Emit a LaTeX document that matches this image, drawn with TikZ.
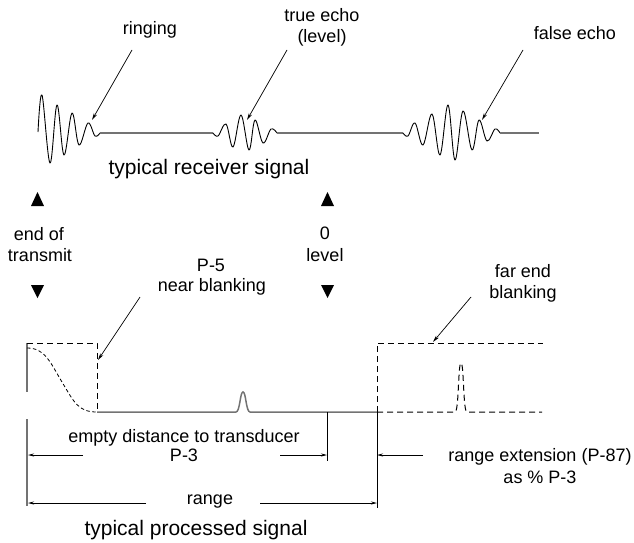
\documentclass[tikz,border=0pt]{standalone}
\usepackage{fontspec}
\setmainfont{Liberation Sans}
\usetikzlibrary{arrows.meta}
\tikzset{
  lbl/.style={font=\fontsize{18}{21}\selectfont, inner sep=0pt, anchor=base},
  ttl/.style={font=\fontsize{21}{24}\selectfont, inner sep=0pt, anchor=base},
  wave/.style={draw=black, line width=0.9pt, line join=round},
  sigline/.style={draw=black!55, line width=1.5pt},
  ptr/.style={draw=black, line width=0.7pt, -{Stealth[length=7pt,width=3.5pt]}},
  dim/.style={draw=black, line width=0.8pt, -{Stealth[length=6pt,width=3pt]}},
  dsh/.style={draw=black, line width=1.0pt, dash pattern=on 6pt off 4pt},
  fdsh/.style={draw=black, line width=0.8pt, dash pattern=on 3.5pt off 2.5pt},
  tick/.style={draw=black, line width=0.8pt},
  tri/.style={fill=black}
}
\begin{document}
\begin{tikzpicture}[x=1pt,y=-1pt]
\useasboundingbox (0,0) rectangle (634,543);

% ---------- receiver signal ----------
\draw[wave] plot[smooth,tension=0.6] coordinates {(38,132) (42,95) (50,163) (57,105) (64,155) (72,113) (79,145) (88,123) (95,136) (100,133)};
\draw[sigline] (100,133) -- (213,133);
\draw[wave] plot[smooth,tension=0.6] coordinates {(213,133) (218,136) (226,124) (233,147) (241,115) (249,150) (255,120) (263,143) (271,129) (277,133)};
\draw[sigline] (277,133) -- (403,133);
\draw[wave] plot[smooth,tension=0.6] coordinates {(403,133) (408,136) (415,123) (423,145) (432,114) (440,155) (448,105) (455,160) (463,111) (472,150) (479,120) (487,141) (495,129) (500,133)};
\draw[sigline] (500,133) -- (539,133);

\node[lbl] (ringing) at (150,35) {ringing};
\node[lbl] (te1) at (322,22) {true echo};
\node[lbl] (te2) at (322,43) {(level)};
\node[lbl] (fe) at (575,40) {false echo};
\node[ttl] (rcv) at (209,174) {typical receiver signal};

\coordinate (rgA) at (132,50); \coordinate (rgB) at (92,120);
\coordinate (teA) at (287,50); \coordinate (teB) at (247,120);
\coordinate (feA) at (523,50); \coordinate (feB) at (482,120);
\draw[ptr] (rgA) -- (rgB);
\draw[ptr] (teA) -- (teB);
\draw[ptr] (feA) -- (feB);

% ---------- markers ----------
\fill[tri] (31,206) -- (44,206) -- (37.5,192) -- cycle;
\fill[tri] (31,285) -- (44,285) -- (37.5,298) -- cycle;
\fill[tri] (321,206) -- (334,206) -- (327.5,192) -- cycle;
\fill[tri] (321,285) -- (334,285) -- (327.5,298) -- cycle;

\node[lbl] (eo1) at (39,240) {end of};
\node[lbl] (eo2) at (40,261) {transmit};
\node[lbl] (zl1) at (325,239) {0};
\node[lbl] (zl2) at (325,261) {level};
\node[lbl] (nb1) at (211,271) {P-5};
\node[lbl] (nb2) at (212,291) {near blanking};
\node[lbl] (fb1) at (523,277) {far end};
\node[lbl] (fb2) at (523,298) {blanking};

\coordinate (nbA) at (140,297); \coordinate (nbB) at (98,360);
\coordinate (fbA) at (471,297); \coordinate (fbB) at (433,342);
\draw[ptr] (nbA) -- (nbB);
\draw[ptr] (fbA) -- (fbB);

% ---------- processed signal ----------
\draw[draw=black!55, line width=1.3pt] (27,343) -- (27,392);
\draw[draw=black!55, line width=1.3pt] (27,419) -- (27,506);
\draw[dsh] (27,343) -- (97,343) -- (97,412);
\draw[fdsh] (27,348) .. controls (45,348) and (50,362) .. (62,382) .. controls (74,402) and (78,412) .. (97,412);
\draw[sigline] (97,412) -- (236,412) .. controls (240,412) and (240,392) .. (243,392) .. controls (246,392) and (246,412) .. (250,412) -- (377,412);
\draw[dsh] (377,412) -- (377,343) -- (543,343);
\draw[dsh] (377,412) -- (455,412) .. controls (459,412) and (458,363) .. (461,363) .. controls (464,363) and (463,412) .. (467,412) -- (542,412);
\draw[tick] (377,412) -- (377,508);
\draw[tick] (327,412) -- (327,461);

\coordinate (L1) at (83,455); \coordinate (L0) at (28,455);
\coordinate (R1) at (280,455); \coordinate (R0) at (327,455);
\coordinate (G1) at (146,503); \coordinate (G0) at (28,503);
\coordinate (H1) at (260,503); \coordinate (H0) at (377,503);
\coordinate (E1) at (423,455); \coordinate (E0) at (377,455);
\draw[dim] (L1) -- (L0);
\draw[dim] (R1) -- (R0);
\draw[dim] (G1) -- (G0);
\draw[dim] (H1) -- (H0);
\draw[dim] (E1) -- (E0);

\node[lbl] (ed1) at (184,442) {empty distance to transducer};
\node[lbl] (ed2) at (184,461) {P-3};
\node[lbl] (rng) at (210,504) {range};
\node[ttl] (prc) at (196,535) {typical processed signal};
\node[lbl] (re1) at (540,461) {range extension (P-87)};
\node[lbl] (re2) at (540,483) {as \% P-3};
\end{tikzpicture}
\end{document}
